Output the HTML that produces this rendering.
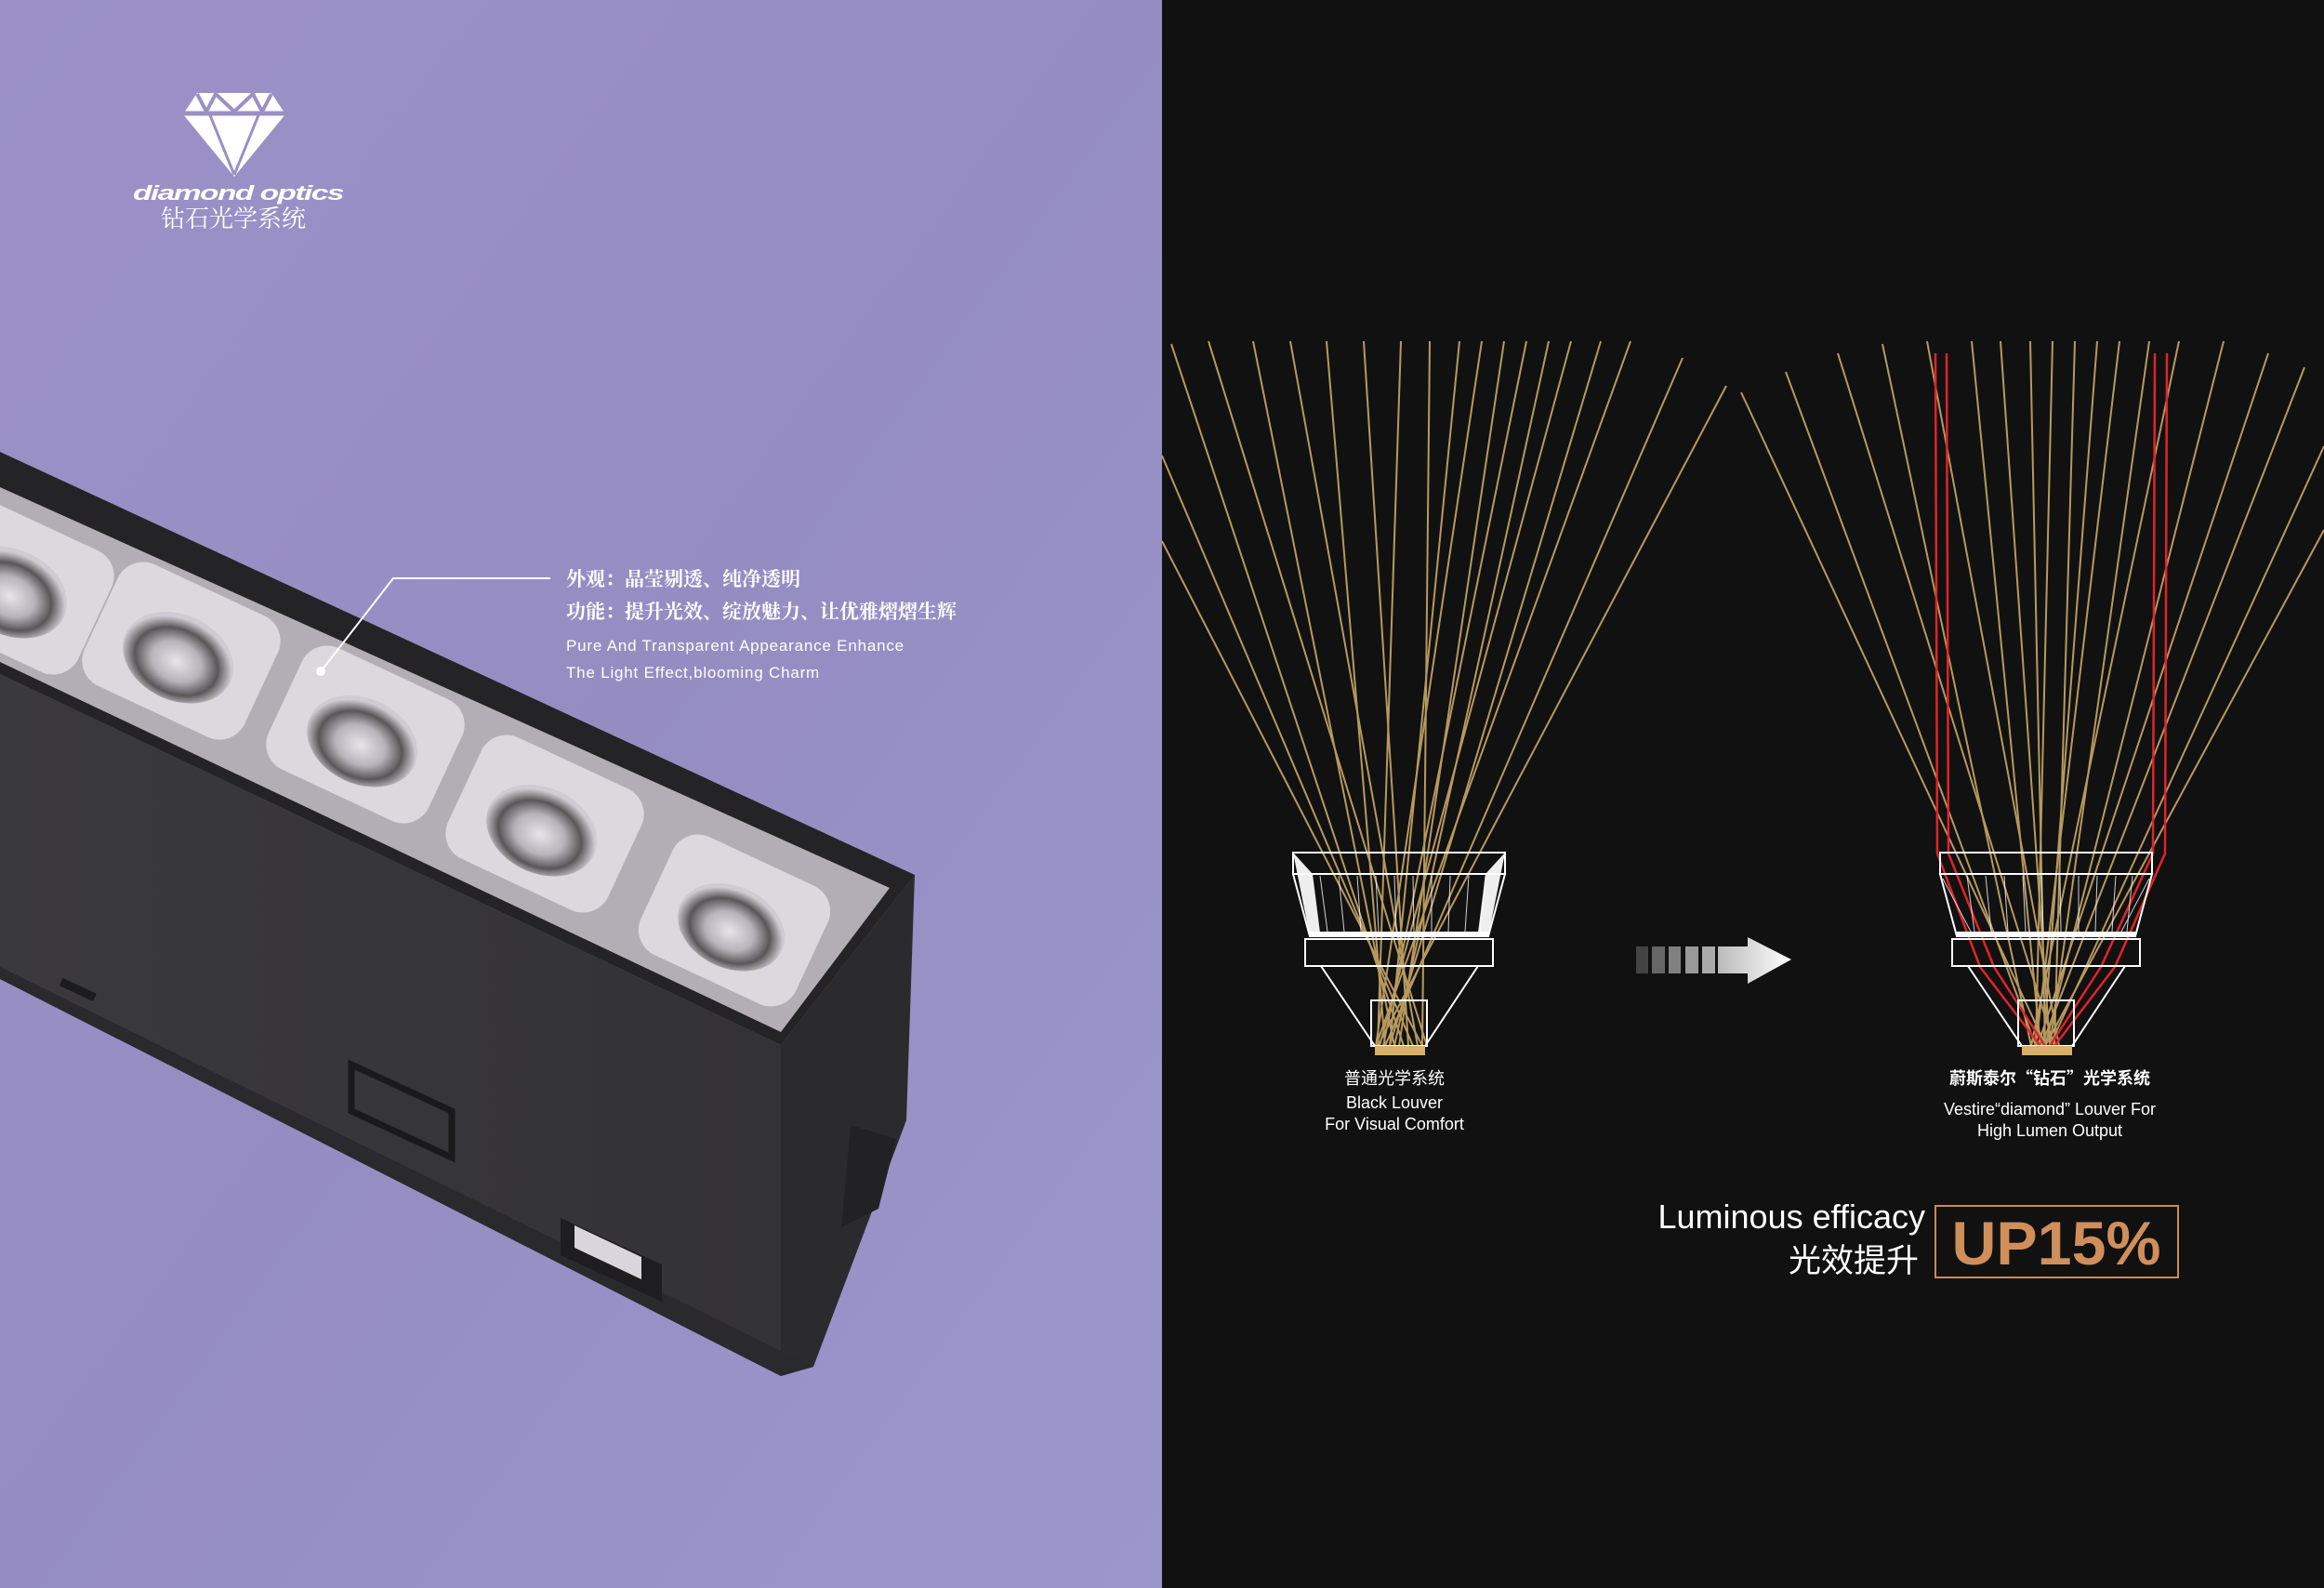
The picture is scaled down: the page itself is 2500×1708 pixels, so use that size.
<!DOCTYPE html>
<html><head><meta charset="utf-8">
<style>
html,body{margin:0;padding:0;width:2500px;height:1708px;overflow:hidden;background:#111;}
svg{display:block}
</style></head>
<body>
<svg width="2500" height="1708" viewBox="0 0 2500 1708" xmlns="http://www.w3.org/2000/svg">
<defs>
<linearGradient id="bg" x1="0" y1="0" x2="1" y2="1">
<stop offset="0" stop-color="#9b91c8"/><stop offset="0.5" stop-color="#958dc2"/><stop offset="1" stop-color="#9b97cc"/>
</linearGradient>
<linearGradient id="front" x1="0" y1="0" x2="1" y2="0">
<stop offset="0" stop-color="#3a393d"/><stop offset="1" stop-color="#333236"/>
</linearGradient>
<radialGradient id="lens" cx="0.5" cy="0.55" r="0.5">
<stop offset="0" stop-color="#e8e4ea"/><stop offset="0.45" stop-color="#b8b3ba"/><stop offset="0.75" stop-color="#5a5658"/><stop offset="1" stop-color="#cfcbd2"/>
</radialGradient>
<linearGradient id="arr" x1="0" y1="0" x2="1" y2="0">
<stop offset="0" stop-color="#bbb"/><stop offset="1" stop-color="#fff"/>
</linearGradient>
</defs>
<rect x="0" y="0" width="1250" height="1708" fill="url(#bg)"/>
<rect x="1250" y="0" width="1250" height="1708" fill="#111111"/>

<!-- logo -->
<polygon points="197,123 212,100 292,100 307,123 252,190" fill="#fff"/>
<g stroke="#9a90c4" fill="none">
<line x1="197" y1="122" x2="307" y2="122" stroke-width="5"/>
<polyline points="212,101 222,120 232,101 252,120 272,101 282,120 292,101" stroke-width="4"/>
<line x1="226" y1="124" x2="252" y2="188" stroke-width="3"/>
<line x1="278" y1="124" x2="252" y2="188" stroke-width="3"/>
</g>
<text x="256" y="215" text-anchor="middle" font-family="Liberation Sans, sans-serif" font-weight="bold" font-style="italic" font-size="22" fill="#fff" letter-spacing="-1" textLength="226" lengthAdjust="spacingAndGlyphs">diamond optics</text>
<text x="251" y="244" text-anchor="middle" font-family="Liberation Serif, 'Noto Serif CJK SC', serif" font-size="26" fill="#fff">钻石光学系统</text>

<!-- fixture -->
<polygon points="0,725 840,1124 840,1480 0,1053" fill="url(#front)"/>
<polygon points="840,1124 984,941 975,1205 875,1470 840,1480" fill="#2b2a2d"/>
<polygon points="915,1210 964,1225 945,1300 905,1320" fill="#222124"/>
<polygon points="0,486 984,941 840,1124 0,725" fill="#242326"/>
<polygon points="0,524 957,955 840,1110 0,712" fill="#b3aeb6"/>
<g>
<g transform="translate(16,630) rotate(25)"><rect x="-95" y="-72" width="190" height="144" rx="30" fill="#dcd8de"/><ellipse cx="0" cy="8" rx="62" ry="46" fill="url(#lens)"/></g>
<g transform="translate(195,700) rotate(25)"><rect x="-95" y="-72" width="190" height="144" rx="30" fill="#dcd8de"/><ellipse cx="0" cy="8" rx="62" ry="46" fill="url(#lens)"/></g>
<g transform="translate(393,790) rotate(25)"><rect x="-95" y="-72" width="190" height="144" rx="30" fill="#dcd8de"/><ellipse cx="0" cy="8" rx="62" ry="46" fill="url(#lens)"/></g>
<g transform="translate(586,886) rotate(25)"><rect x="-95" y="-72" width="190" height="144" rx="30" fill="#dcd8de"/><ellipse cx="0" cy="8" rx="62" ry="46" fill="url(#lens)"/></g>
<g transform="translate(790,990) rotate(25)"><rect x="-92" y="-70" width="184" height="140" rx="30" fill="#dcd8de"/><ellipse cx="0" cy="8" rx="60" ry="44" fill="url(#lens)"/></g>
</g>
<polygon points="0,1053 840,1480 875,1470 0,1040" fill="#2a292c"/>
<rect x="64" y="1060" width="40" height="9" fill="#1c1b1e" transform="rotate(25 84 1064)"/>
<polygon points="378,1145 486,1195 486,1245 378,1195" fill="none" stroke="#1a191b" stroke-width="7"/>
<polygon points="603,1310 712,1360 712,1400 603,1350" fill="#1e1d20"/>
<polygon points="618,1318 690,1352 690,1376 618,1342" fill="#d8d6dc"/>

<!-- callout -->
<polyline points="343,725 423,622 592,622" fill="none" stroke="#fff" stroke-width="2"/>
<circle cx="345" cy="722" r="5" fill="#fff"/>
<g font-family="Liberation Serif, 'Noto Serif CJK SC', serif" font-size="21" fill="#fff" font-weight="bold">
<text x="609" y="630">外观：晶莹剔透、纯净透明</text>
<text x="609" y="665">功能：提升光效、绽放魅力、让优雅熠熠生辉</text>
</g>
<g font-family="Liberation Sans, sans-serif" font-size="17" fill="#fff" letter-spacing="0.8">
<text x="609" y="700">Pure And Transparent Appearance Enhance</text>
<text x="609" y="729">The Light Effect,blooming Charm</text>
</g>

<!-- left rays -->
<g stroke="#c9a868" stroke-width="2" fill="none" opacity="0.9">
<line x1="1530" y1="1125" x2="1250" y2="582"/>
<line x1="1520" y1="1125" x2="1250" y2="490"/>
<line x1="1510" y1="1125" x2="1260" y2="370"/>
<line x1="1535" y1="1125" x2="1300" y2="367"/>
<line x1="1500" y1="1125" x2="1348" y2="367"/>
<line x1="1525" y1="1125" x2="1388" y2="367"/>
<line x1="1490" y1="1125" x2="1427" y2="367"/>
<line x1="1515" y1="1125" x2="1467" y2="367"/>
<line x1="1482" y1="1125" x2="1507" y2="367"/>
<line x1="1530" y1="1125" x2="1538" y2="367"/>
<line x1="1495" y1="1125" x2="1570" y2="367"/>
<line x1="1480" y1="1125" x2="1594" y2="367"/>
<line x1="1505" y1="1125" x2="1618" y2="367"/>
<line x1="1488" y1="1125" x2="1642" y2="367"/>
<line x1="1500" y1="1125" x2="1666" y2="367"/>
<line x1="1484" y1="1125" x2="1690" y2="367"/>
<line x1="1495" y1="1125" x2="1722" y2="367"/>
<line x1="1480" y1="1125" x2="1754" y2="367"/>
<line x1="1490" y1="1125" x2="1810" y2="385"/>
<line x1="1482" y1="1125" x2="1857" y2="415"/>
</g>
<g stroke="#fff" stroke-width="2" fill="none">
<polygon points="1391,917 1412,940 1420,1003 1409,1007" fill="#eee" stroke="none"/>
<polygon points="1619,917 1598,940 1590,1003 1601,1007" fill="#eee" stroke="none"/>
<rect x="1391" y="917" width="228" height="23"/>
<polygon points="1391,940 1619,940 1601,1007 1409,1007"/>
<line x1="1409" y1="1004" x2="1601" y2="1004" stroke-width="4"/>
<rect x="1404" y="1010" width="202" height="29"/>
<polyline points="1421,1039 1479,1125 1533,1125 1590,1039"/>
<rect x="1475" y="1076" width="60" height="49"/>
<g stroke-width="1" opacity="0.8">
<line x1="1420" y1="942" x2="1428" y2="1002"/><line x1="1440" y1="942" x2="1446" y2="1002"/><line x1="1460" y1="942" x2="1464" y2="1002"/><line x1="1480" y1="942" x2="1483" y2="1002"/><line x1="1500" y1="942" x2="1502" y2="1002"/><line x1="1520" y1="942" x2="1521" y2="1002"/><line x1="1540" y1="942" x2="1540" y2="1002"/><line x1="1560" y1="942" x2="1558" y2="1002"/><line x1="1580" y1="942" x2="1576" y2="1002"/><line x1="1598" y1="942" x2="1592" y2="1002"/>
</g>
</g>
<rect x="1479" y="1125" width="54" height="10" fill="#d8b06a"/>

<!-- right rays -->
<g stroke="#c9a868" stroke-width="2" fill="none" opacity="0.9">
<line x1="2201" y1="1125" x2="1873" y2="422"/>
<line x1="2190" y1="1125" x2="1921" y2="400"/>
<line x1="2210" y1="1125" x2="1977" y2="380"/>
<line x1="2185" y1="1125" x2="2025" y2="370"/>
<line x1="2215" y1="1125" x2="2073" y2="367"/>
<line x1="2195" y1="1125" x2="2121" y2="367"/>
<line x1="2205" y1="1125" x2="2152" y2="367"/>
<line x1="2200" y1="1125" x2="2184" y2="367"/>
<line x1="2190" y1="1125" x2="2208" y2="367"/>
<line x1="2210" y1="1125" x2="2232" y2="367"/>
<line x1="2198" y1="1125" x2="2256" y2="367"/>
<line x1="2190" y1="1125" x2="2280" y2="367"/>
<line x1="2205" y1="1125" x2="2312" y2="367"/>
<line x1="2185" y1="1125" x2="2344" y2="367"/>
<line x1="2200" y1="1125" x2="2392" y2="367"/>
<line x1="2192" y1="1125" x2="2440" y2="380"/>
<line x1="2196" y1="1125" x2="2479" y2="395"/>
<line x1="2205" y1="1125" x2="2500" y2="480"/>
<line x1="2200" y1="1125" x2="2500" y2="570"/>
</g>
<g stroke="#e0242a" stroke-width="2.5" fill="none">
<polyline points="2082,380 2084,918 2130,1040 2195,1125"/>
<polyline points="2094,380 2096,918 2145,1040 2200,1125"/>
<polyline points="2318,380 2316,918 2260,1040 2205,1125"/>
<polyline points="2331,380 2329,918 2275,1040 2210,1125"/>
</g>
<g stroke="#fff" stroke-width="2" fill="none">
<rect x="2087" y="917" width="228" height="23"/>
<polygon points="2087,940 2315,940 2297,1007 2105,1007"/>
<line x1="2105" y1="1004" x2="2297" y2="1004" stroke-width="4"/>
<rect x="2100" y="1010" width="202" height="29"/>
<polyline points="2117,1039 2175,1125 2229,1125 2286,1039"/>
<rect x="2171" y="1076" width="60" height="49"/>
<g stroke-width="1" opacity="0.8">
<line x1="2116" y1="942" x2="2124" y2="1002"/><line x1="2136" y1="942" x2="2142" y2="1002"/><line x1="2156" y1="942" x2="2160" y2="1002"/><line x1="2176" y1="942" x2="2179" y2="1002"/><line x1="2196" y1="942" x2="2198" y2="1002"/><line x1="2216" y1="942" x2="2217" y2="1002"/><line x1="2236" y1="942" x2="2236" y2="1002"/><line x1="2256" y1="942" x2="2254" y2="1002"/><line x1="2276" y1="942" x2="2272" y2="1002"/><line x1="2294" y1="942" x2="2288" y2="1002"/>
<line x1="2090" y1="945" x2="2120" y2="1002"/><line x1="2312" y1="945" x2="2282" y2="1002"/>
</g>
</g>
<rect x="2175" y="1125" width="54" height="10" fill="#d8b06a"/>

<!-- arrow -->
<rect x="1760" y="1018" width="13" height="29" fill="#444"/>
<rect x="1777" y="1018" width="14" height="29" fill="#666"/>
<rect x="1795" y="1018" width="13" height="29" fill="#808080"/>
<rect x="1813" y="1018" width="14" height="29" fill="#999"/>
<rect x="1831" y="1018" width="14" height="29" fill="#aaa"/>
<polygon points="1848,1018 1880,1018 1880,1008 1927,1032 1880,1058 1880,1047 1848,1047" fill="url(#arr)"/>

<g font-family="'Liberation Sans Narrow', 'Liberation Sans', 'Noto Sans CJK SC', sans-serif" fill="#fff" text-anchor="middle">
<text x="1500" y="1166" font-size="18" font-family="'Noto Sans CJK SC', sans-serif">普通光学系统</text>
<text x="1500" y="1192" font-size="18">Black Louver</text>
<text x="1500" y="1215" font-size="18">For Visual Comfort</text>
<text x="2205" y="1166" font-size="18" font-weight="bold" font-family="'Noto Sans CJK SC', sans-serif">蔚斯泰尔“钻石”光学系统</text>
<text x="2205" y="1199" font-size="18">Vestire“diamond” Louver For</text>
<text x="2205" y="1222" font-size="18">High Lumen Output</text>
</g>

<text x="2071" y="1321" text-anchor="end" font-family="'Liberation Sans', sans-serif" font-size="36" fill="#fff">Luminous efficacy</text>
<text x="2064" y="1368" text-anchor="end" font-family="'Liberation Sans', 'Noto Sans CJK SC', sans-serif" font-size="35" fill="#fff">光效提升</text>
<rect x="2082" y="1297" width="261" height="77" fill="none" stroke="#c98b55" stroke-width="2"/>
<text x="2212" y="1360" text-anchor="middle" font-family="'Liberation Sans', sans-serif" font-weight="bold" font-size="66" fill="#d08e5a" textLength="225" lengthAdjust="spacingAndGlyphs">UP15%</text>
</svg>
</body></html>
